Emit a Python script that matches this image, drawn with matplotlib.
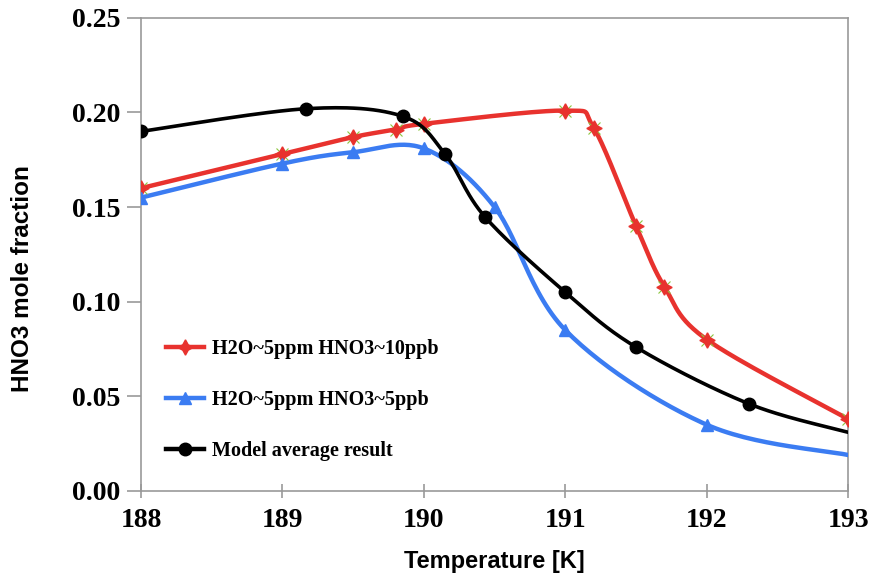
import numpy as np
import matplotlib
matplotlib.use('Agg')
import matplotlib.pyplot as plt
from matplotlib.lines import Line2D

# Series read from the model runs
temp_red = [188.0, 189.0, 189.5, 189.8, 190.0, 191.0, 191.2, 191.5, 191.7, 192.0, 193.0]
frac_red = [0.160, 0.178, 0.187, 0.191, 0.194, 0.201, 0.192, 0.140, 0.108, 0.080, 0.038]

temp_blue = [188.0, 189.0, 189.5, 190.0, 190.5, 191.0, 192.0, 193.0]
frac_blue = [0.155, 0.173, 0.179, 0.181, 0.150, 0.085, 0.035, 0.019]

temp_black = [188.0, 189.17, 189.85, 190.15, 190.43, 191.0, 191.5, 192.3, 193.0]
frac_black = [0.190, 0.202, 0.198, 0.178, 0.145, 0.105, 0.076, 0.046, 0.031]

labels = ["H2O~5ppm HNO3~10ppb", "H2O~5ppm HNO3~5ppb", "Model average result"]
xticks = [188, 189, 190, 191, 192, 193]
yticks = [0.00, 0.05, 0.10, 0.15, 0.20, 0.25]

RED = '#e8322e'
BLUE = '#3b7cf2'
BLACK = '#000000'
STAR4 = (4, 1, 0)


def smooth(xs, ys, sx=141.4, sy=1892.0, n=30):
    """Bezier smoothing through the points (spreadsheet-style smoothed line)."""
    p = np.column_stack([np.asarray(xs) * sx, np.asarray(ys) * sy])
    pts = np.vstack([p[0], p, p[-1]])
    out = []
    t = np.linspace(0, 1, n)[:, None]
    for i in range(1, len(pts) - 2):
        p0, p1, p2, p3 = pts[i - 1], pts[i], pts[i + 1], pts[i + 2]
        c1 = p1 + (p2 - p0) / 6.0
        c2 = p2 - (p3 - p1) / 6.0
        seg = ((1 - t) ** 3) * p1 + 3 * ((1 - t) ** 2) * t * c1 + 3 * (1 - t) * t ** 2 * c2 + t ** 3 * p2
        out.append(seg if i == 1 else seg[1:])
    out = np.vstack(out)
    return out[:, 0] / sx, out[:, 1] / sy


fig = plt.figure(figsize=(8.7, 5.76), dpi=100)
ax = fig.add_axes([0.162, 0.1476, 0.813, 0.8214])

# red series: line + 4-point star marker with small green cross
xs, ys = smooth(temp_red, frac_red)
ax.plot(xs, ys, color=RED, lw=3.2, solid_capstyle='butt', zorder=3)
ax.plot(temp_red, frac_red, ls='none', marker='x', ms=9, color='#8cc63f', mew=0.8, zorder=3.5)
ax.plot(temp_red, frac_red, ls='none', marker=STAR4, ms=11, color=RED, mec=RED, zorder=4)

# blue series, last point has no marker
xs, ys = smooth(temp_blue, frac_blue)
ax.plot(xs, ys, color=BLUE, lw=3.2, zorder=3)
ax.plot(temp_blue[:-1], frac_blue[:-1], ls='none', marker='^', ms=9, color=BLUE, zorder=4)

# model average, last point has no marker
xs, ys = smooth(temp_black, frac_black)
ax.plot(xs, ys, color=BLACK, lw=2.6, zorder=5)
ax.plot(temp_black[:-1], frac_black[:-1], ls='none', marker='o', ms=9, color=BLACK, zorder=6)

ax.set_xlim(188, 193)
ax.set_ylim(0, 0.25)
ax.set_xticks(xticks)
ax.set_yticks(yticks)
ax.set_xticklabels([str(v) for v in xticks])
ax.set_yticklabels([f"{v:.2f}" for v in yticks])

for sp in ax.spines.values():
    sp.set_color('#999999')
    sp.set_linewidth(1.2)
ax.tick_params(axis='y', direction='out', length=10, width=1.2, color='#999999', pad=5)
ax.tick_params(axis='x', direction='inout', length=10, width=1.2, color='#999999', pad=7)

for lab in ax.get_xticklabels() + ax.get_yticklabels():
    lab.set_fontfamily('Liberation Serif')
    lab.set_fontweight('bold')
    lab.set_fontsize(20)

ax.set_xlabel('Temperature [K]', fontsize=17, fontweight='bold',
              fontfamily='Liberation Sans')
ax.set_ylabel('HNO3 mole fraction', fontsize=17.5, fontweight='bold',
              fontfamily='Liberation Sans')
ax.xaxis.set_label_coords(0.5, -0.125)
ax.yaxis.set_label_coords(-0.168, 0.45)
ax.yaxis.label.set_verticalalignment('center')

handles = [
    Line2D([], [], color=RED, lw=3.2, marker=STAR4, ms=11),
    Line2D([], [], color=BLUE, lw=3.2, marker='^', ms=9),
    Line2D([], [], color=BLACK, lw=3.2, marker='o', ms=9),
]
ax.legend(handles, labels, loc='lower left', bbox_to_anchor=(0.01, 0.025),
          frameon=False, handlelength=1.9, handletextpad=0.4, labelspacing=1.55,
          prop={'family': 'Liberation Serif', 'weight': 'bold', 'size': 14.5})

fig.savefig('out.png', dpi=100)
